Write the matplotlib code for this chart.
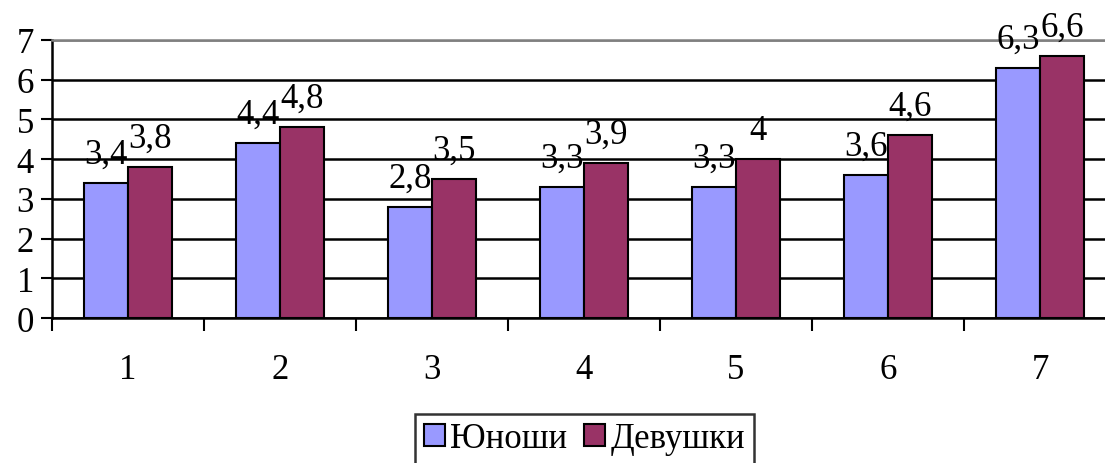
import matplotlib
matplotlib.use("Agg")
import matplotlib.pyplot as plt
import numpy as np

categories = ["1", "2", "3", "4", "5", "6", "7"]
boys = [3.4, 4.4, 2.8, 3.3, 3.3, 3.6, 6.3]
girls = [3.8, 4.8, 3.5, 3.9, 4.0, 4.6, 6.6]
series_names = ["Юноши", "Девушки"]
colors = ["#9999FF", "#993366"]
yticks = [0, 1, 2, 3, 4, 5, 6, 7]

plt.rcParams['font.family'] = ['Liberation Serif', 'DejaVu Serif']

W, H = 1105, 464
fig = plt.figure(figsize=(W / 100, H / 100), dpi=100)
ax = fig.add_axes([52 / W, 1 - 319 / H, (1116 - 52) / W, (319 - 41) / H])

x = np.arange(1, len(categories) + 1)
bw = 0.29
b1 = ax.bar(x - bw / 2, boys, bw, color=colors[0], edgecolor="black", linewidth=1.5, zorder=3, label=series_names[0])
b2 = ax.bar(x + bw / 2, girls, bw, color=colors[1], edgecolor="black", linewidth=1.5, zorder=3, label=series_names[1])

fs = 25
for bars, vals in ((b1, boys), (b2, girls)):
    for rect, v in zip(bars, vals):
        ax.annotate(f"{v:g}".replace(".", ","), xy=(rect.get_x() + rect.get_width() / 2, v),
                    xytext=(0, 9), textcoords="offset points", ha="center", va="bottom",
                    fontsize=fs, zorder=4, annotation_clip=False)

ax.set_xlim(0.5, len(categories) + 0.5)
ax.set_ylim(0, 7)
ax.set_yticks(yticks)
ax.set_yticklabels([str(t) for t in yticks], fontsize=fs)
ax.set_xticks(x)
ax.set_xticklabels(categories, fontsize=fs)
ax.set_xticks(np.arange(0.5, len(categories) + 1, 1.0), minor=True)
ax.tick_params(axis="x", which="major", length=0, pad=25)
ax.tick_params(axis="x", which="minor", length=9, width=1.5, direction="out", color="black")
ax.tick_params(axis="y", which="major", length=8, width=1.5, direction="out", pad=5)

ax.yaxis.grid(True, color="black", linewidth=1.8, zorder=0)
ax.set_axisbelow(True)
fig.canvas.draw()
gl = ax.yaxis.get_gridlines()
gl[-1].set_color("#808080")

ax.spines["right"].set_visible(False)
ax.spines["top"].set_color("#808080")
ax.spines["top"].set_linewidth(1.8)
ax.spines["left"].set_linewidth(1.8)
ax.spines["bottom"].set_linewidth(1.8)

leg = fig.legend(handles=[b1, b2], labels=series_names, loc="center",
                 bbox_to_anchor=((421 + 748) / 2 / W, 1 - 440 / H),
                 ncol=2, fontsize=fs, frameon=True, fancybox=False,
                 edgecolor="black", handlelength=0.6, handleheight=0.6,
                 handletextpad=0.15, columnspacing=0.5, borderpad=0.25, borderaxespad=0)
leg.get_frame().set_linewidth(1.8)

fig.savefig("out.png", dpi=100)
